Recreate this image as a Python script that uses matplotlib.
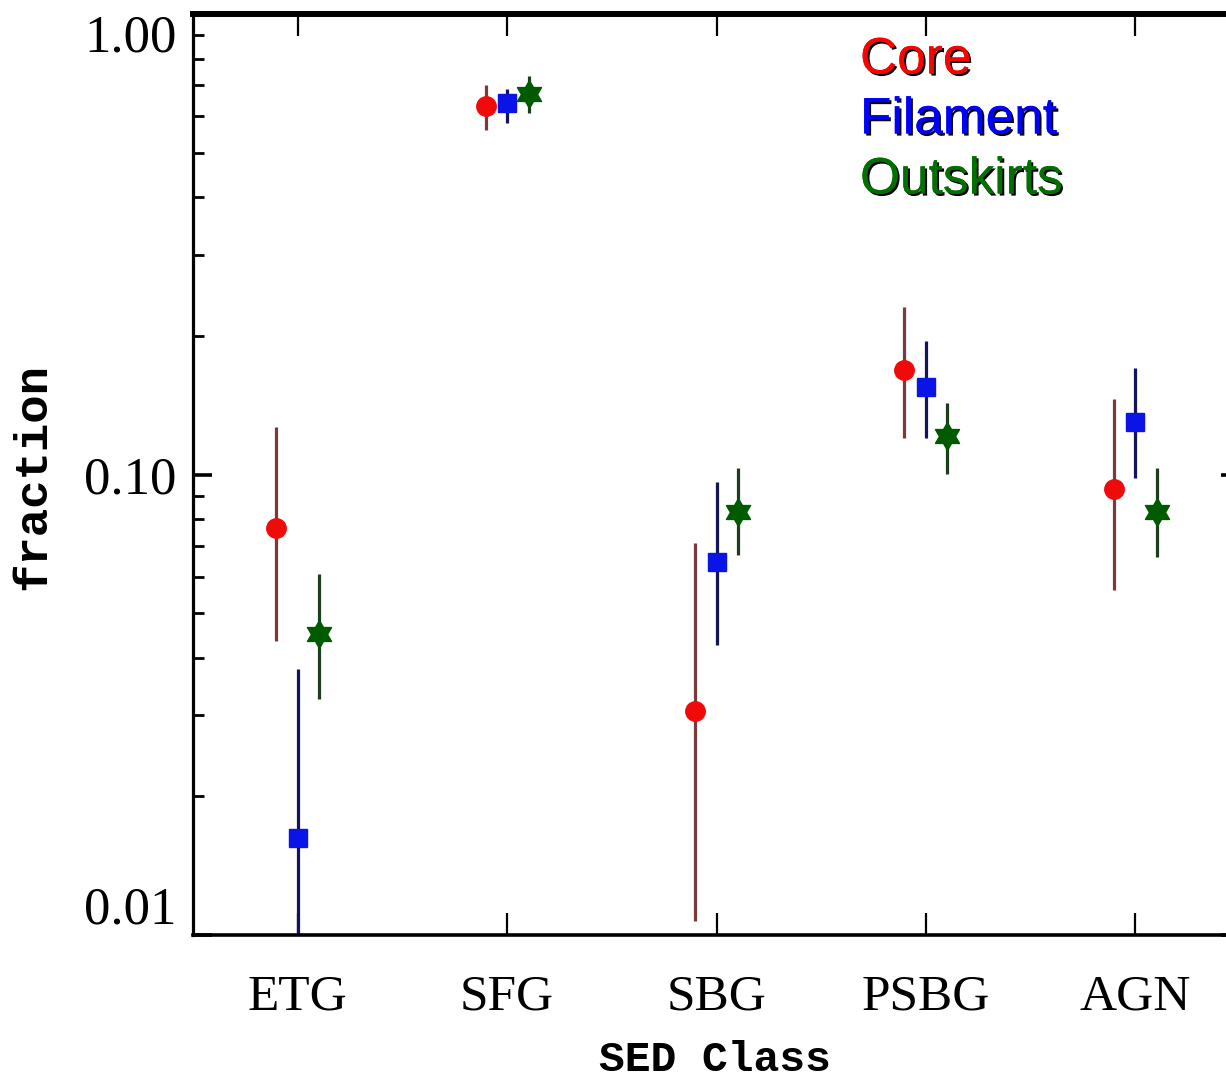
import numpy as np
import matplotlib
matplotlib.use("Agg")
import matplotlib.pyplot as plt
import matplotlib.patheffects as pe
from matplotlib.path import Path
from matplotlib.ticker import FixedLocator, NullFormatter, LogLocator

categories = ["ETG", "SFG", "SBG", "PSBG", "AGN"]
groups = ["Core", "Filament", "Outskirts"]

core_val = [0.0767, 0.631, 0.0307, 0.169, 0.0928]
core_lo = [0.0436, 0.560, 0.0107, 0.120, 0.0562]
core_hi = [0.1266, 0.701, 0.0711, 0.231, 0.1456]

fil_val = [0.01625, 0.640, 0.0647, 0.1546, 0.1303]
fil_lo = [0.0060, 0.580, 0.0427, 0.120, 0.0985]
fil_hi = [0.0379, 0.687, 0.0961, 0.1946, 0.1700]

out_val = [0.0451, 0.670, 0.0831, 0.121, 0.0827]
out_lo = [0.0326, 0.609, 0.0667, 0.1005, 0.0663]
out_hi = [0.0609, 0.733, 0.1035, 0.1427, 0.1035]

# hexagram marker (Star of David)
ang = np.pi / 2 + np.arange(12) * np.pi / 6
rad = np.where(np.arange(12) % 2 == 0, 1.0, 1 / np.sqrt(3))
hex_verts = np.column_stack([rad * np.cos(ang), rad * np.sin(ang)])
hex_verts = np.vstack([hex_verts, hex_verts[:1]])
hexagram = Path(hex_verts, closed=True)

W, H = 1226, 1082
fig = plt.figure(figsize=(W / 100, H / 100), dpi=100)
ax = fig.add_axes([193 / W, 1 - 935 / H, (1240 - 193) / W, (935 - 14) / H])
ax.set_yscale("log")
ax.set_xlim(-0.5, 4.5)
ax.set_ylim(0.01, 1.0)

xpos = np.arange(len(categories))
off = 0.103
series = [
    (core_val, core_lo, core_hi, -off, "o", "#f00a0a", "#7a3a3a", 14),
    (fil_val, fil_lo, fil_hi, 0.0, "s", "#0a14e6", "#14145a", 13),
    (out_val, out_lo, out_hi, off, hexagram, "#005a00", "#1e3c1e", 20),
]
for vals, lo, hi, dx, mk, mc, ec, ms in series:
    v = np.array(vals)
    lo = np.array(lo)
    hi = np.array(hi)
    ax.errorbar(xpos + dx, v, yerr=[v - lo, hi - v], fmt="none",
                ecolor=ec, elinewidth=2.3, capsize=0, zorder=2)
    ax.plot(xpos + dx, v, linestyle="none", marker=mk, ms=ms,
            mfc=mc, mec=mc, mew=1.0, zorder=3)

# spines
ax.spines["left"].set_linewidth(2.3)
ax.spines["bottom"].set_linewidth(2.6)
ax.spines["right"].set_linewidth(2.3)
ax.spines["top"].set_linewidth(4.3)

ax.set_xticks(xpos)
ax.set_xticklabels(categories)
ax.yaxis.set_major_locator(FixedLocator([0.01, 0.1, 1.0]))
ax.set_yticklabels(["0.01", "0.10", "1.00"])
ax.yaxis.set_minor_locator(LogLocator(base=10, subs=np.arange(2, 10)))
ax.yaxis.set_minor_formatter(NullFormatter())

ax.tick_params(axis="x", which="major", direction="in", length=16, width=1.6,
               top=True, bottom=True, pad=28, labelsize=37)
ax.tick_params(axis="y", which="major", direction="in", length=14, width=2.6,
               left=True, right=True, pad=12, labelsize=38)
ax.tick_params(axis="y", which="minor", direction="in", length=8, width=2.0,
               left=True, right=True)

for lab in ax.get_xticklabels() + ax.get_yticklabels():
    lab.set_fontfamily(["Liberation Serif", "DejaVu Serif"])
ylabs = ax.get_yticklabels()
ylabs[0].set_verticalalignment("bottom")
ylabs[2].set_verticalalignment("top")

fig.text(33 / W, 1 - 476 / H, "fraction", rotation=90, ha="center", va="center",
         fontsize=34, fontweight="bold", family=["Liberation Mono", "DejaVu Sans Mono"])
fig.text(715 / W, 1 - 1060 / H, "SED Class", ha="center", va="center",
         fontsize=31, fontweight="bold", family=["Liberation Mono", "DejaVu Sans Mono"])

shadow = [pe.withSimplePatchShadow(offset=(1.5, -1.5), shadow_rgbFace="black", alpha=1.0), pe.Normal()]
legend_items = [("Core", "#ff0000", 60), ("Filament", "#0000ff", 120), ("Outskirts", "#007000", 180)]
for txt, col, yc in legend_items:
    fig.text(860 / W, 1 - yc / H, txt, color=col, ha="left", va="center",
             fontsize=37, family=["Liberation Sans", "DejaVu Sans"],
             path_effects=shadow)

fig.savefig("out.png", dpi=100)
